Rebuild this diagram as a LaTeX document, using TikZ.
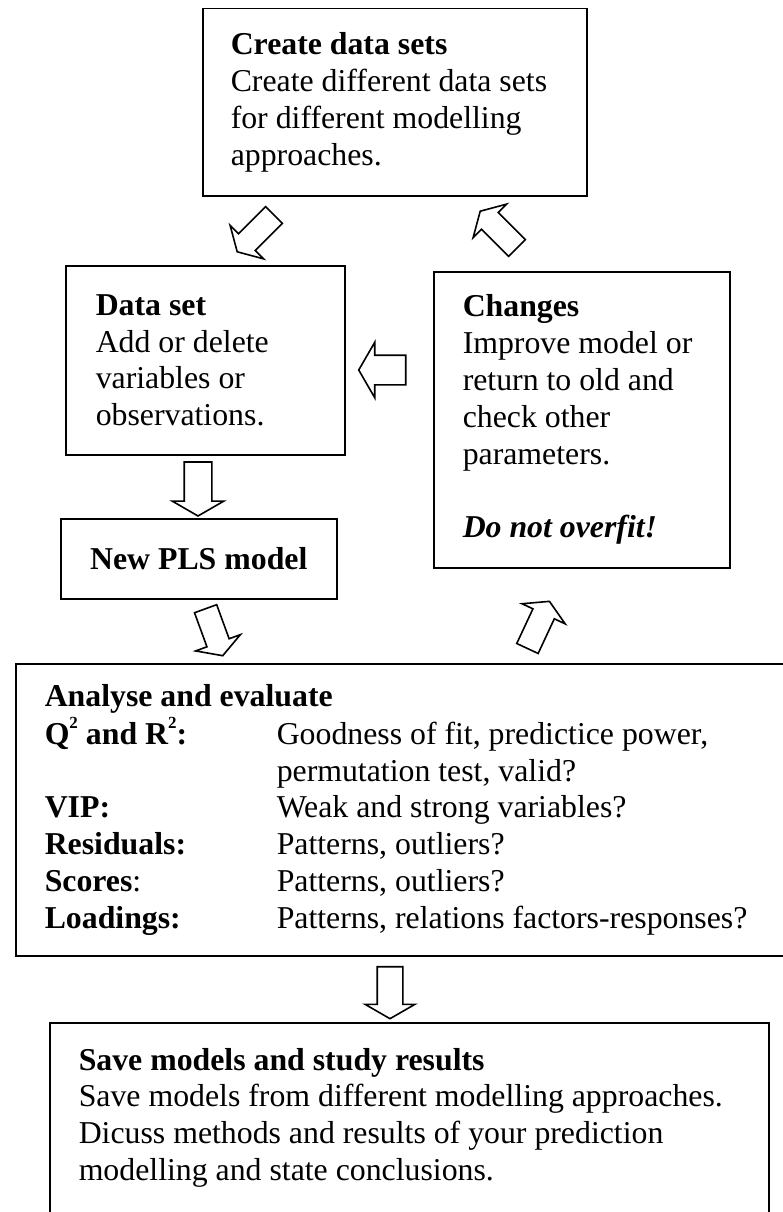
\documentclass[tikz,border=0pt]{standalone}
\usepackage{fontspec}
\setmainfont{Liberation Serif}
\usetikzlibrary{shapes.arrows}
\newcommand{\supnum}[1]{\raisebox{0.5em}{\fontsize{17pt}{17pt}\selectfont\bfseries #1}}
\begin{document}
\begin{tikzpicture}[x=1pt,y=-1pt,
  every node/.style={font=\fontsize{31.8pt}{36.8pt}\selectfont},
  box/.style={draw=black, line width=1.5pt, rectangle, anchor=north west, align=flush left, inner ysep=0pt},
  blockarr/.style={draw=black, line width=1.6pt, fill=white, single arrow,
    single arrow tip angle=120, single arrow head extend=12pt,
    inner xsep=0pt, inner ysep=13pt, minimum height=52pt, anchor=center},
]
\useasboundingbox (0,0) rectangle (783,1212);
\clip (0,0) rectangle (783,1212);
\fill[white] (0,0) rectangle (783,1212);

% boxes
\node[box, inner xsep=28pt, text width=328pt, minimum height=187pt] (create) at (202,8)
  {\textbf{Create data sets}\\Create different data sets\\for different modelling\\approaches.};

\node[box, inner xsep=30pt, text width=219pt, minimum height=189pt] (dataset) at (65,265)
  {\textbf{Data set}\\Add or delete\\variables or\\observations.};

\node[box, inner xsep=29pt, text width=238pt, minimum height=296pt] (changes) at (433,271)
  {\textbf{Changes}\\Improve model or\\return to old and\\check other\\parameters.\\[36.8pt]\textbf{\itshape Do not overfit!}};

\node[box, align=center, minimum width=276pt, minimum height=80pt] (pls) at (60,518)
  {\textbf{New PLS model}};

\node[box, inner xsep=29pt, minimum height=292pt] (analyse) at (15,663)
  {\begin{tabular}{@{}p{232pt}@{}p{481pt}@{}}
   \multicolumn{2}{@{}l@{}}{\textbf{Analyse and evaluate}}\\
   \textbf{Q\supnum{2} and R\supnum{2}:} & Goodness of fit, predictice power,\\
    & permutation test, valid?\\
   \textbf{VIP:} & Weak and strong variables?\\
   \textbf{Residuals:} & Patterns, outliers?\\
   \textbf{Scores}: & Patterns, outliers?\\
   \textbf{Loadings:} & Patterns, relations factors-responses?
   \end{tabular}};

\node[box, inner xsep=29pt, text width=661pt, minimum height=231pt] (save) at (49,1022)
  {\textbf{Save models and study results}\\Save models from different modelling approaches.\\Dicuss methods and results of your prediction\\modelling and state conclusions.\\\strut};

% block arrows
\node[blockarr, rotate=-135, inner ysep=11pt] (a1) at (258,231) {};
\node[blockarr, rotate=135, inner ysep=11pt] (a2) at (501,232) {};
\node[blockarr, rotate=-90, minimum height=54pt] (a3) at (198,485) {};
\node[blockarr, rotate=180, minimum height=47pt, inner ysep=14pt, single arrow head extend=13pt] (a4) at (386.5,370) {};
\node[blockarr, rotate=-70, inner ysep=11pt, minimum height=50pt] (a5) at (213,629) {};
\node[blockarr, rotate=65, inner ysep=11pt, minimum height=52pt] (a6) at (537,628) {};
\node[blockarr, rotate=-90, inner ysep=12pt] (a7) at (390,989) {};
\end{tikzpicture}
\end{document}
